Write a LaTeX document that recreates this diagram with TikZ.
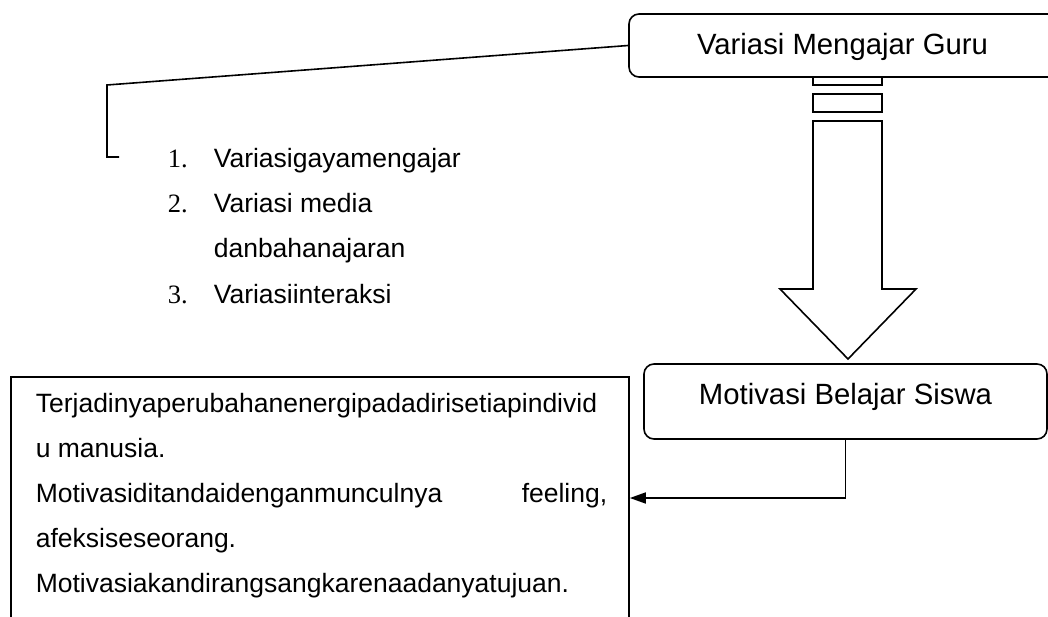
\documentclass[tikz,border=0pt]{standalone}
\usepackage{fontspec}
\setmainfont{Liberation Sans}
\newfontfamily\numfont{Liberation Serif}
\usetikzlibrary{arrows.meta}
\begin{document}
\begin{tikzpicture}[x=1pt,y=-1pt,line width=1.6pt,
  txt/.style={anchor=base west,inner sep=0pt,font=\fontsize{26.5}{30}\selectfont},
  txtr/.style={anchor=base east,inner sep=0pt,font=\fontsize{26.5}{30}\selectfont},
  num/.style={anchor=base west,inner sep=0pt,font=\numfont\fontsize{26.5}{30}\selectfont},
  rbox/.style={draw,rounded corners=10pt,fill=white,inner sep=0pt,font=\fontsize{29.3}{33}\selectfont,text height=22pt},
  plainbox/.style={draw,fill=white,line join=miter}]
\useasboundingbox (0,0) rectangle (1048,617);
\clip (0,0) rectangle (1048,617);

% block arrow pieces
\draw[plainbox] (813,74) rectangle (882,85);
\draw[plainbox] (813,94) rectangle (882,112);
\draw[plainbox] (813,121) -- (882,121) -- (882,289) -- (916,289) -- (848,359) -- (780,289) -- (813,289) -- cycle;

% boxes
\node[rbox,minimum width=437pt,minimum height=63pt,text depth=3pt] (guru) at (847.5,45.5) {\hspace*{-10pt}Variasi Mengajar Guru};
\node[rbox,minimum width=403pt,minimum height=75pt,text depth=17pt] (siswa) at (845.5,401.5) {Motivasi Belajar Siswa};
\node[draw,minimum width=618pt,minimum height=242pt,inner sep=0pt] (desc) at (320,498) {};

% bracket
\coordinate (brk) at (119,157);
\draw[line join=miter] (guru.west) -- (107,85) -- (107,157) -- (brk);

% list
\node[num] (n1) at (167,168) {1.};
\node[txt] (l1) at (213,168) {Variasigayamengajar};
\node[num] (n2) at (167,213) {2.};
\node[txt] (l2) at (213,213) {Variasi media};
\node[txt] (l2b) at (213,258) {danbahanajaran};
\node[num] (n3) at (167,303) {3.};
\node[txt] (l3) at (213,303) {Variasiinteraksi};

% description text
\node[txt] (d1) at (35,412) {Terjadinyaperubahanenergipadadirisetiapindivid};
\node[txt] (d2) at (35,457) {u manusia.};
\node[txt] (d3) at (35,502) {Motivasiditandaidenganmunculnya};
\node[txtr] (d3b) at (608,502) {feeling,};
\node[txt] (d4) at (35,547) {afeksiseseorang.};
\node[txt] (d5) at (35,592) {Motivasiakandirangsangkarenaadanyatujuan.};

% connector
\draw[-{Triangle[length=16pt,width=11pt]}] (siswa.south) |- (desc.east);
\end{tikzpicture}
\end{document}
